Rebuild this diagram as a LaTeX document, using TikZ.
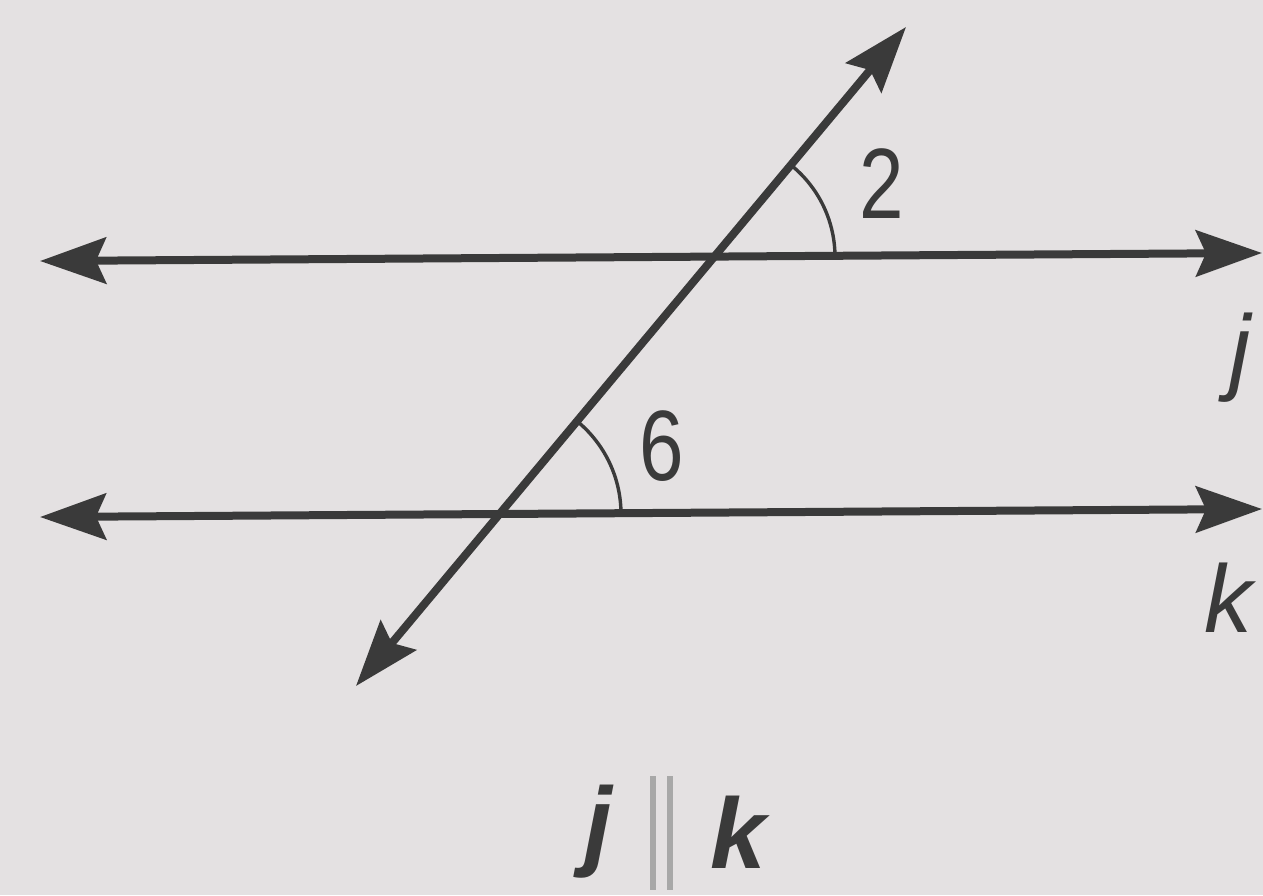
\documentclass[tikz,border=0pt]{standalone}
\usepackage{fontspec}
\setmainfont{Liberation Sans}
\usetikzlibrary{arrows.meta}
\definecolor{bg}{HTML}{E4E1E2}
\definecolor{ink}{HTML}{3A3A3A}
\definecolor{bar}{HTML}{A8A8A8}
\tikzset{
  line/.style={draw=ink, line width=4pt, {Stealth[length=33pt,width=23pt,inset=5pt]}-{Stealth[length=33pt,width=23pt,inset=5pt]}},
  anglearc/.style={draw=ink, line width=1.7pt},
  num/.style={text=ink, font=\fontsize{50}{56}\selectfont, xscale=0.8, inner sep=0pt},
  lab/.style={text=ink, font=\fontsize{48}{54}\selectfont\itshape, inner sep=0pt},
  blab/.style={text=ink, font=\fontsize{50}{56}\selectfont\bfseries\itshape, inner sep=0pt}
}
\begin{document}
\begin{tikzpicture}[x=0.5pt,y=-0.5pt]
\useasboundingbox (0,0) rectangle (1263,895);
\fill[bg] (0,0) rectangle (1263,895);
% line endpoints
\coordinate (jL) at (40,261);
\coordinate (jR) at (1262,253);
\coordinate (kL) at (40,517);
\coordinate (kR) at (1262,509);
\coordinate (tB) at (356,686);
\coordinate (tT) at (906,27);
\coordinate (P) at (717,257);
\coordinate (Q) at (501,514);
\draw[line] (jL) -- (jR);
\draw[line] (kL) -- (kR);
\draw[line] (tB) -- (tT);
% angle arcs
\draw[anglearc] (P) ++(118,0) arc[start angle=0, end angle=-50, radius=118];
\draw[anglearc] (Q) ++(120,0) arc[start angle=0, end angle=-50, radius=120];
% labels
\node[num] (n2) at (882,184) {2};
\node[num] (n6) at (662,446) {6};
\node[lab] (lj) at (1240,358) {j};
\node[lab] (lk) at (1228,598) {k};
\node[blab] (bj) at (598,832) {j};
\node[blab] (bk) at (738,832) {k};
\draw[bar, line width=3pt] (653,776) -- (653,890);
\draw[bar, line width=3pt] (670,776) -- (670,890);
\end{tikzpicture}
\end{document}
